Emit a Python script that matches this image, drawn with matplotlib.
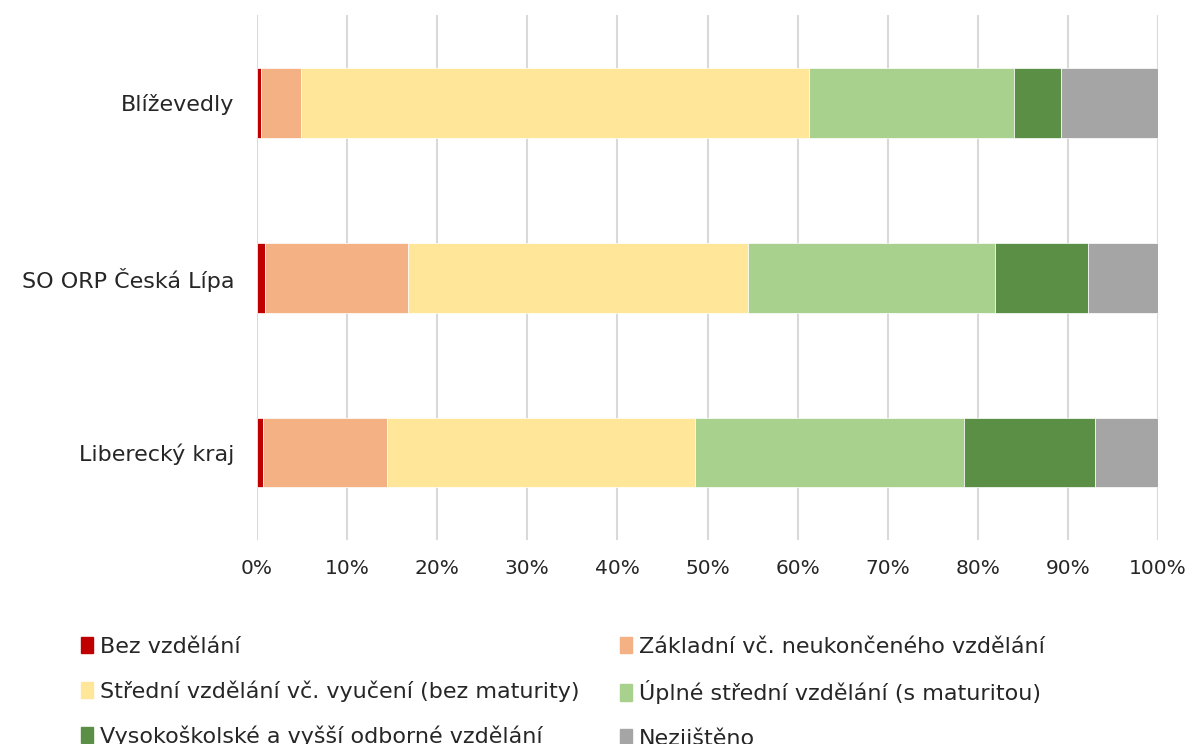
import numpy as np
import matplotlib.pyplot as plt
from matplotlib.patches import Patch
from matplotlib.ticker import FuncFormatter

plt.rcParams['font.family'] = ['DejaVu Sans']

# categories, top to bottom
regions = ['Blíževedly', 'SO ORP Česká Lípa', 'Liberecký kraj']

# shares in % per education level
bez = [0.45, 0.9, 0.67]
zakladni = [4.45, 15.9, 13.73]
stredni = [56.4, 37.7, 34.2]
uplne = [22.7, 27.4, 29.9]
vysoko = [5.2, 10.3, 14.5]
nezjisteno = [10.8, 7.8, 7.0]

series = [
    ('Bez vzdělání', bez, '#C00000'),
    ('Základní vč. neukončeného vzdělání', zakladni, '#F4B183'),
    ('Střední vzdělání vč. vyučení (bez maturity)', stredni, '#FFE699'),
    ('Úplné střední vzdělání (s maturitou)', uplne, '#A9D18E'),
    ('Vysokoškolské a vyšší odborné vzdělání', vysoko, '#5B8F45'),
    ('Nezjištěno', nezjisteno, '#A5A5A5'),
]

txt = '#262626'

fig = plt.figure(figsize=(11.92, 7.44), dpi=100)
ax = fig.add_axes([0.2156, 0.2742, 0.9715 - 0.2156, 0.9798 - 0.2742])

y = np.arange(len(regions))
left = np.zeros(len(regions))
for name, vals, col in series:
    vals = np.array(vals)
    ax.barh(y, vals, left=left, height=0.4, color=col, label=name,
            edgecolor='white', linewidth=0.5, zorder=3)
    left += vals

ax.set_xlim(0, 100)
ax.set_ylim(2.5, -0.5)
ax.set_yticks(y)
ax.set_yticklabels(regions, fontsize=16, color=txt)
ax.set_xticks(np.arange(0, 101, 10))
ax.xaxis.set_major_formatter(FuncFormatter(lambda v, p: f'{v:.0f}%'))
ax.tick_params(axis='x', labelsize=14.5, colors=txt, length=0, pad=14)
ax.tick_params(axis='y', length=0, pad=16.5)
ax.grid(axis='x', color='#D9D9D9', linewidth=1.5, zorder=0)
for s in ax.spines.values():
    s.set_visible(False)

# legend: two columns of three, row-major order like the original
handles = [Patch(color=c) for _, _, c in series]
labels = [n for n, _, _ in series]
leg_kw = dict(loc='upper left', frameon=False, fontsize=16, handlelength=0.55,
              handleheight=0.75, handletextpad=0.3, labelspacing=1.05,
              borderpad=0, borderaxespad=0, labelcolor=txt)
fig.legend([handles[i] for i in (0, 2, 4)], [labels[i] for i in (0, 2, 4)],
           bbox_to_anchor=(0.068, 0.144), **leg_kw)
fig.legend([handles[i] for i in (1, 3, 5)], [labels[i] for i in (1, 3, 5)],
           bbox_to_anchor=(0.52, 0.144), **leg_kw)

fig.savefig('out.png', dpi=100)
